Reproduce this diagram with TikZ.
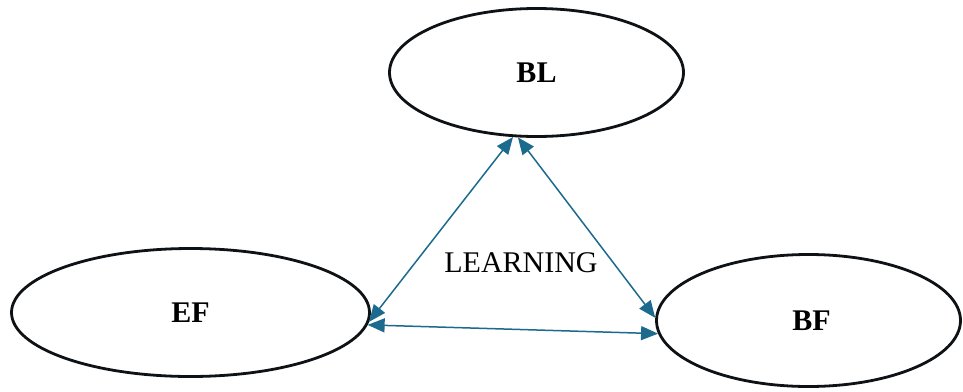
\documentclass[tikz,border=0pt]{standalone}
\usepackage{fontspec}
\setmainfont{Liberation Serif}
\usetikzlibrary{arrows.meta,shapes.geometric}
\definecolor{linkblue}{HTML}{1C6A8D}
\definecolor{rimblack}{HTML}{0E1215}
\begin{document}
\begin{tikzpicture}[x=1pt,y=-1pt,
  concept/.style={ellipse,draw=rimblack,line width=2.8pt,inner sep=0pt,
    font=\fontsize{30}{30}\selectfont\bfseries},
  link/.style={draw=linkblue,line width=1.5pt,
    {Triangle[length=17pt,width=14pt]}-{Triangle[length=17pt,width=14pt]}}]
  \useasboundingbox (0,0) rectangle (963,391);
  \node[concept,minimum width=294pt,minimum height=128pt] (bl) at (536.5,72.5) {BL};
  \node[concept,minimum width=358pt,minimum height=128pt] (ef) at (190.5,312.5) {EF};
  \node[concept,minimum width=304pt,minimum height=132pt] (bf) at (808.5,320.5) {\hspace{6pt}BF};
  \node[font=\fontsize{30}{30}\selectfont,inner sep=0pt] (learn) at (521,262.5) {LEARNING};
  \draw[link] (bl.-110.5) -- (ef.-3.3);
  \draw[link] (bl.-106.4) -- (bf.179);
  \draw[link] (ef.-4.9) -- (bf.185.7);
\end{tikzpicture}
\end{document}
